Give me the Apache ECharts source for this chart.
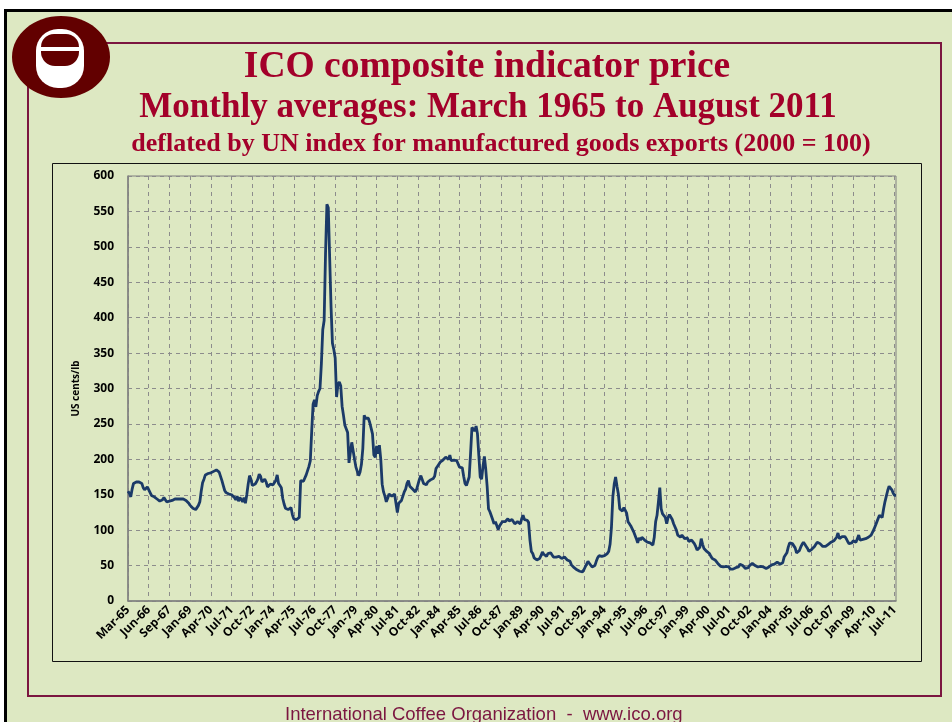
<!DOCTYPE html>
<html>
<head>
<meta charset="utf-8">
<style>
  html, body { margin: 0; padding: 0; background: #ffffff; }
  #main { width: 952px; height: 722px; }
</style>
</head>
<body>
<div id="main"></div>
<script src="https://cdn.jsdelivr.net/npm/echarts@6/dist/echarts.min.js"></script>
<script>
  // x-axis tick labels, one every 15 months
  const tickLabels = [
    'Mar-65', 'Jun-66', 'Sep-67', 'Jan-69', 'Apr-70', 'Jul-71', 'Oct-72', 'Jan-74',
    'Apr-75', 'Jul-76', 'Oct-77', 'Jan-79', 'Apr-80', 'Jul-81', 'Oct-82', 'Jan-84',
    'Apr-85', 'Jul-86', 'Oct-87', 'Jan-89', 'Apr-90', 'Jul-91', 'Oct-92', 'Jan-94',
    'Apr-95', 'Jul-96', 'Oct-97', 'Jan-99', 'Apr-00', 'Jul-01', 'Oct-02', 'Jan-04',
    'Apr-05', 'Jul-06', 'Oct-07', 'Jan-09', 'Apr-10', 'Jul-11'
  ];

  const yTicks = [0, 50, 100, 150, 200, 250, 300, 350, 400, 450, 500, 550, 600];

  // US cents/lb, monthly
  const prices1965 = [
    155, 152, 147, 158, 166, 168, 168, 169, 168, 167, 166, 160, 157, 158, 161,
    160, 153, 149, 148, 147, 146, 144, 142, 141, 141, 143, 146, 143, 140, 140,
    141, 142, 142, 143, 144, 145, 144, 145, 144, 143, 144, 143, 142, 141, 138,
    135, 133, 131, 129, 129, 131, 135, 140, 155, 167, 172, 178, 180, 180, 181,
    181, 182, 183, 184, 185, 185, 182, 176, 170, 163, 156, 153, 152, 151, 150,
    150, 149, 146, 143, 148, 141, 146, 144, 140, 146, 138, 150, 165, 177, 172,
    163, 162, 165, 168, 172, 179, 176, 168, 170, 172, 168, 161, 163, 165, 165,
    164, 165, 170, 178, 166, 163, 160, 145, 137, 131, 129, 129, 131, 132, 122,
    116, 114, 115, 117, 118, 170, 168, 169, 171, 178, 184, 190, 198, 240, 278
  ];
  const prices1976 = [
    284, 274, 290, 296, 300, 335, 383, 396, 490, 560, 555, 485, 415, 364, 355,
    343, 288, 306, 309, 304, 275, 262, 248, 250, 238, 195, 210, 224, 212, 200,
    189, 183, 177, 182, 193, 215, 262, 258, 260, 258, 252, 244, 236, 206, 203,
    219, 208, 220, 200, 165, 154, 148, 140, 145, 151, 152, 148, 150, 151, 138,
    125, 138, 140, 142, 144, 154, 158, 166, 170, 162, 160, 158, 156, 154, 158,
    165, 172, 177, 176, 166, 164, 164, 168, 170, 171, 172, 173, 176, 187, 190,
    192, 196, 197, 199, 200, 203, 201, 200, 206, 198, 200, 199, 197, 198, 196,
    189, 189, 188, 176, 166, 163, 162, 175, 208, 245, 247, 240, 247, 236, 205,
    175, 172, 190, 204, 186, 162, 130, 126, 125, 115, 109, 112, 114, 101, 106
  ];
  const prices1987 = [
    109, 112, 114, 112, 114, 116, 113, 112, 115, 114, 109, 108, 112, 110, 109,
    116, 121, 115, 114, 114, 111, 86, 70, 67, 61, 60, 58, 59, 60, 64,
    69, 66, 64, 63, 67, 69, 68, 65, 62, 60, 62, 64, 63, 62, 60,
    59, 62, 61, 58, 57, 56, 51, 49, 47, 46, 44, 43, 42, 41, 41,
    44, 48, 52, 56, 53, 51, 48, 46, 50, 56, 61, 64, 63, 63, 65,
    64, 63, 67, 70, 80, 104, 147, 165, 175, 162, 151, 130, 128, 127, 132,
    130, 124, 112, 109, 106, 104, 98, 99, 88, 82, 89, 86, 90, 89, 86,
    84, 83, 83, 82, 81, 79, 90, 112, 121, 140, 160, 130, 123, 121, 118,
    109, 118, 122, 123, 115, 109, 107, 100, 93, 91, 90, 93, 91, 88, 90
  ];
  const prices1999 = [
    89, 84, 85, 86, 84, 81, 77, 72, 74, 76, 88, 80, 74, 72, 70,
    68, 67, 63, 60, 59, 58, 56, 53, 51, 49, 49, 48, 48, 49, 50,
    48, 45, 43, 45, 46, 47, 48, 48, 52, 51, 50, 48, 46, 45, 47,
    50, 51, 53, 51, 50, 49, 48, 48, 49, 50, 48, 47, 46, 47, 48,
    49, 51, 52, 52, 53, 55, 56, 52, 51, 54, 62, 64, 68, 76, 82,
    82, 81, 80, 75, 68, 67, 71, 76, 80, 83, 80, 77, 74, 70, 71,
    73, 74, 77, 80, 83, 84, 81, 79, 77, 76, 77, 79, 80, 82, 83,
    84, 85, 86, 90, 96, 88, 90, 91, 93, 91, 88, 84, 81, 79, 82,
    85, 84, 83, 88, 93, 86, 86, 87, 87, 88, 89, 90, 91, 93, 95,
    101, 106, 111, 116, 121, 123, 118, 130, 140, 148, 156, 162, 163, 157, 152,
    149, 149
  ];

  const prices = prices1965.concat(prices1976, prices1987, prices1999);
  const categories = prices.map((v, i) => String(i));

  var chartDom = document.getElementById('main');
  var myChart = echarts.init(chartDom);
  var option;

  const maroon = '#7b1640';
  const red = '#a3002a';

  option = {
    backgroundColor: '#dde8c2',
    animation: false,
    title: [
      {
        text: 'ICO composite indicator price',
        left: 482, top: 43, textAlign: 'center',
        textStyle: { fontFamily: 'Liberation Serif', fontWeight: 'bold', fontSize: 37.5, color: red }
      },
      {
        text: 'Monthly averages: March 1965 to August 2011',
        left: 483, top: 85, textAlign: 'center',
        textStyle: { fontFamily: 'Liberation Serif', fontWeight: 'bold', fontSize: 35, color: red }
      },
      {
        text: 'deflated by UN index for manufactured goods exports (2000 = 100)',
        left: 496, top: 126, textAlign: 'center',
        textStyle: { fontFamily: 'Liberation Serif', fontWeight: 'bold', fontSize: 26, color: red }
      }
    ],
    graphic: [
      { type: 'rect', z: 0, shape: { x: 0, y: 0, width: 952, height: 9 }, style: { fill: '#ffffff' } },
      { type: 'rect', z: 0, shape: { x: 0, y: 0, width: 4, height: 722 }, style: { fill: '#ffffff' } },
      { type: 'rect', z: 1, shape: { x: 5.5, y: 10.5, width: 960, height: 730 }, style: { fill: 'none', stroke: '#000', lineWidth: 3 } },
      { type: 'rect', z: 1, shape: { x: 28, y: 43, width: 913, height: 653 }, style: { fill: 'none', stroke: maroon, lineWidth: 2 } },
      { type: 'rect', z: 1, shape: { x: 52.5, y: 163.5, width: 869, height: 498 }, style: { fill: 'none', stroke: '#111', lineWidth: 1 } },
      // logo
      { type: 'ellipse', z: 5, shape: { cx: 61, cy: 57, rx: 49, ry: 41 }, style: { fill: '#620000' } },
      { type: 'rect', z: 6, shape: { x: 36, y: 29, width: 48, height: 59, r: [22, 22, 22, 22] }, style: { fill: '#ffffff' } },
      { type: 'rect', z: 7, shape: { x: 41, y: 34, width: 38, height: 13, r: [17, 17, 0, 0] }, style: { fill: '#620000' } },
      { type: 'rect', z: 7, shape: { x: 41, y: 51, width: 38, height: 15, r: [0, 0, 14, 14] }, style: { fill: '#620000' } },
      {
        type: 'text', z: 5, left: 285, top: 705,
        style: { text: 'International Coffee Organization  -  www.ico.org', fontFamily: 'Liberation Sans', fontSize: 18.5, fill: maroon }
      }
    ],
    grid: {
      left: 128, right: 56, top: 176, bottom: 121,
      show: true, borderColor: '#808080', borderWidth: 1
    },
    xAxis: {
      type: 'category',
      data: categories,
      boundaryGap: false,
      axisLine: { lineStyle: { color: '#808080', width: 1.5 } },
      axisTick: { show: false },
      axisLabel: {
        interval: 14,
        rotate: 45,
        margin: 7,
        fontFamily: 'Open Sans',
        fontWeight: 'bold',
        fontSize: 12,
        color: '#000',
        formatter: (v, i) => (i % 15 === 0 ? tickLabels[i / 15] : '')
      },
      splitLine: { show: true, interval: 14, lineStyle: { color: '#8c8c8c', type: [4, 4] } }
    },
    yAxis: {
      type: 'value',
      min: yTicks[0],
      max: yTicks[yTicks.length - 1],
      interval: 50,
      name: 'US cents/lb',
      nameLocation: 'middle',
      nameGap: 47,
      nameTextStyle: { fontFamily: 'Open Sans', fontWeight: 'bold', fontSize: 10, color: '#000' },
      axisLine: { show: true, lineStyle: { color: '#808080', width: 1.5 } },
      axisTick: { show: false },
      axisLabel: { margin: 14, fontFamily: 'Open Sans', fontWeight: 'bold', fontSize: 12, color: '#000' },
      splitLine: { lineStyle: { color: '#8c8c8c', type: [4, 4] } }
    },
    series: [
      {
        type: 'line',
        data: prices,
        symbol: 'none',
        lineStyle: { color: '#1b3a68', width: 2.8 },
        z: 3
      }
    ]
  };

  option && myChart.setOption(option);

  window.onresize = function () {
    myChart.resize();
  };
</script>
</body>
</html>
